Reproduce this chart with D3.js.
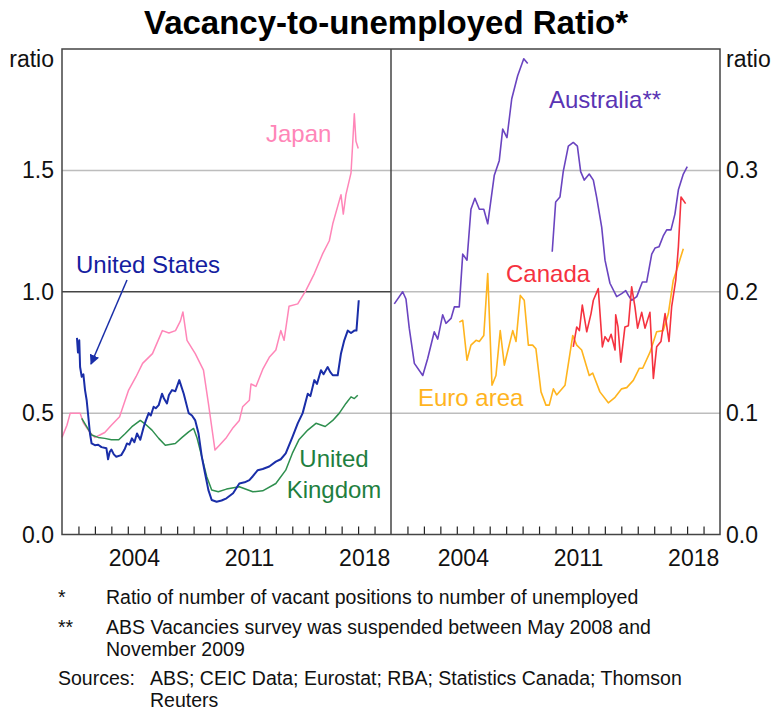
<!DOCTYPE html>
<html>
<head>
<meta charset="utf-8">
<script src="https://cdn.jsdelivr.net/npm/d3@7"></script>
<style>
  body { margin: 0; background: #fff; }
  text { font-family: "Liberation Sans", Arial, sans-serif; }
</style>
</head>
<body>
<svg id="chart" width="772" height="712"></svg>
<script>
// series are [year, ratio] pairs
const japan = [
  [2000.0,0.40],[2000.3,0.45],[2000.5,0.50],[2001.1,0.50],[2001.3,0.46],[2001.7,0.42],[2002.0,0.40],[2002.3,0.41],
  [2002.6,0.42],[2003.0,0.45],[2003.5,0.485],[2004.05,0.595],[2004.5,0.65],[2004.9,0.705],[2005.5,0.745],
  [2006.1,0.84],[2006.5,0.83],[2006.9,0.84],[2007.2,0.88],[2007.35,0.917],[2007.6,0.80],[2008.1,0.745],
  [2008.6,0.677],[2008.9,0.54],[2009.3,0.348],[2009.6,0.37],[2010.0,0.40],[2010.4,0.44],[2010.78,0.47],
  [2010.98,0.526],[2011.39,0.553],[2011.49,0.62],[2011.79,0.61],[2012.2,0.68],[2012.6,0.73],[2013.0,0.76],
  [2013.3,0.84],[2013.5,0.80],[2013.8,0.94],[2014.33,0.95],[2014.83,1.006],[2015.34,1.075],[2015.85,1.157],
  [2016.25,1.21],[2016.46,1.28],[2016.96,1.40],[2017.1,1.32],[2017.26,1.40],[2017.57,1.49],[2017.67,1.61],
  [2017.77,1.733],[2017.87,1.62],[2018.01,1.59]
];
const unitedStates = [
  [2000.91,0.81],[2000.97,0.75],[2001.05,0.80],[2001.1,0.69],[2001.2,0.65],[2001.3,0.66],[2001.4,0.595],
  [2001.5,0.553],[2001.6,0.485],[2001.7,0.416],[2001.8,0.375],[2002.0,0.368],[2002.2,0.37],[2002.4,0.36],
  [2002.7,0.355],[2002.8,0.31],[2002.9,0.34],[2003.0,0.35],[2003.15,0.33],[2003.3,0.32],[2003.6,0.327],
  [2003.8,0.35],[2003.95,0.375],[2004.1,0.37],[2004.25,0.396],[2004.4,0.38],[2004.56,0.416],[2004.76,0.39],
  [2004.97,0.444],[2005.1,0.47],[2005.27,0.50],[2005.4,0.49],[2005.57,0.526],[2005.7,0.52],[2005.88,0.533],
  [2006.08,0.58],[2006.2,0.56],[2006.38,0.54],[2006.5,0.575],[2006.69,0.595],[2006.89,0.59],[2007.13,0.636],
  [2007.4,0.58],[2007.7,0.50],[2007.9,0.49],[2008.1,0.47],[2008.3,0.416],[2008.5,0.32],[2008.7,0.25],
  [2008.9,0.183],[2009.1,0.142],[2009.4,0.135],[2009.7,0.14],[2010.0,0.149],[2010.4,0.17],[2010.78,0.21],
  [2011.1,0.215],[2011.39,0.224],[2011.6,0.24],[2011.9,0.265],[2012.2,0.27],[2012.6,0.28],[2013.0,0.30],
  [2013.3,0.31],[2013.6,0.334],[2014.0,0.40],[2014.33,0.458],[2014.63,0.50],[2014.94,0.58],[2015.1,0.57],
  [2015.34,0.636],[2015.5,0.62],[2015.74,0.677],[2015.9,0.66],[2016.15,0.69],[2016.3,0.67],[2016.46,0.656],
  [2016.76,0.656],[2016.96,0.746],[2017.16,0.80],[2017.37,0.84],[2017.57,0.83],[2017.77,0.84],[2017.9,0.84],
  [2018.04,0.965]
];
const unitedKingdom = [
  [2001.2,0.478],[2001.5,0.444],[2001.8,0.41],[2002.2,0.40],[2002.6,0.396],[2003.0,0.39],[2003.45,0.39],
  [2003.85,0.416],[2004.25,0.444],[2004.76,0.47],[2005.06,0.455],[2005.47,0.43],[2005.88,0.396],[2006.28,0.368],
  [2006.89,0.375],[2007.3,0.40],[2007.7,0.423],[2008.0,0.437],[2008.2,0.40],[2008.5,0.32],[2008.8,0.238],
  [2009.1,0.183],[2009.5,0.176],[2010.0,0.187],[2010.78,0.197],[2011.6,0.176],[2012.2,0.18],[2013.0,0.21],
  [2013.6,0.265],[2014.0,0.334],[2014.4,0.39],[2014.94,0.43],[2015.44,0.458],[2016.0,0.445],[2016.46,0.47],
  [2016.86,0.50],[2017.26,0.54],[2017.57,0.567],[2017.77,0.56],[2017.98,0.574]
];
// null marks the suspended survey (May 2008 - Nov 2009)
const australia = [
  [2000.2,0.190],[2000.71,0.20],[2000.91,0.194],[2001.11,0.17],[2001.42,0.141],[2001.93,0.131],[2002.23,0.145],
  [2002.63,0.167],[2002.84,0.161],[2003.14,0.181],[2003.34,0.174],[2003.65,0.178],[2003.85,0.1875],[2004.15,0.1875],
  [2004.36,0.231],[2004.62,0.226],[2004.86,0.268],[2005.1,0.277],[2005.37,0.268],[2005.64,0.268],[2005.88,0.256],
  [2006.28,0.296],[2006.58,0.308],[2006.79,0.334],[2007.05,0.327],[2007.34,0.359],[2007.7,0.378],[2008.07,0.392],
  [2008.31,0.388],[2009.0,null],
  [2009.8,0.233],[2010.01,0.274],[2010.27,0.278],[2010.47,0.299],[2010.78,0.32],[2011.08,0.323],[2011.33,0.32],
  [2011.53,0.299],[2011.75,0.292],[2012.05,0.297],[2012.3,0.292],[2012.5,0.278],[2012.81,0.253],[2013.01,0.226],
  [2013.31,0.207],[2013.72,0.196],[2014.02,0.1985],[2014.27,0.201],[2014.43,0.197],[2014.63,0.193],[2014.94,0.196],
  [2015.28,0.208],[2015.54,0.208],[2015.85,0.231],[2016.05,0.236],[2016.29,0.237],[2016.55,0.246],[2016.76,0.251],
  [2017.02,0.251],[2017.26,0.264],[2017.47,0.284],[2017.77,0.297],[2018.01,0.303]
];
const euroArea = [
  [2004.15,0.175],[2004.36,0.1765],[2004.62,0.1436],[2004.86,0.156],[2005.17,0.160],[2005.37,0.159],[2005.64,0.164],
  [2005.88,0.215],[2006.14,0.123],[2006.38,0.131],[2006.64,0.168],[2006.89,0.1395],[2007.13,0.153],[2007.4,0.168],
  [2007.6,0.159],[2007.86,0.197],[2008.1,0.193],[2008.35,0.156],[2008.61,0.156],[2008.81,0.153],[2009.12,0.1175],
  [2009.42,0.1066],[2009.62,0.1066],[2009.87,0.120],[2010.07,0.115],[2010.58,0.123],[2011.05,0.164],[2011.29,0.156],
  [2011.59,0.152],[2012.05,0.131],[2012.26,0.133],[2012.7,0.1175],[2013.21,0.1085],[2013.62,0.113],[2014.02,0.120],
  [2014.33,0.121],[2014.73,0.127],[2015.1,0.137],[2015.3,0.137],[2015.74,0.150],[2016.15,0.167],[2016.55,0.168],
  [2016.86,0.182],[2017.16,0.2095],[2017.37,0.218],[2017.77,0.2355]
];
const canada = [
  [2011.08,0.1546],[2011.29,0.171],[2011.45,0.168],[2011.63,0.189],[2011.9,0.167],[2012.16,0.182],[2012.3,0.193],
  [2012.6,0.2026],[2012.85,0.1546],[2013.01,0.163],[2013.21,0.159],[2013.38,0.165],[2013.62,0.152],[2013.66,0.181],
  [2013.8,0.171],[2013.97,0.142],[2014.22,0.171],[2014.43,0.172],[2014.63,0.204],[2014.83,0.1875],[2014.99,0.17],
  [2015.24,0.183],[2015.44,0.17],[2015.74,0.183],[2015.95,0.1286],[2016.15,0.1546],[2016.41,0.159],[2016.66,0.182],
  [2016.9,0.159],[2017.06,0.1875],[2017.31,0.2095],[2017.47,0.237],[2017.63,0.278],[2017.91,0.2726]
];

const leftTicks = [0, 0.5, 1.0, 1.5];
const rightTicks = [0, 0.1, 0.2, 0.3];
const yearLabels = [2004, 2011, 2018];
const yearTicks = d3.range(2001, 2020);

const svg = d3.select("#chart");
const plotTop = 49, plotBottom = 534.5, plotLeft = 62, plotMid = 391, plotRight = 720;

const xL = d3.scaleLinear().domain([2000, 2020]).range([plotLeft, plotMid]);
const xR = d3.scaleLinear().domain([2000, 2020]).range([plotMid, plotRight]);
const yL = d3.scaleLinear().domain([0, 2]).range([plotBottom, plotTop]);
const yR = d3.scaleLinear().domain([0, 0.4]).range([plotBottom, plotTop]);

// gridlines
svg.append("g").selectAll("line").data(leftTicks.slice(1)).join("line")
  .attr("x1", plotLeft).attr("x2", plotMid)
  .attr("y1", d => yL(d)).attr("y2", d => yL(d))
  .attr("stroke", d => d === 1 ? "#444" : "#bdbdbd").attr("stroke-width", 1.5);
svg.append("g").selectAll("line").data(rightTicks.slice(1)).join("line")
  .attr("x1", plotMid).attr("x2", plotRight)
  .attr("y1", d => yR(d)).attr("y2", d => yR(d))
  .attr("stroke", "#bdbdbd").attr("stroke-width", 1.5);

// data lines
const lineL = d3.line().x(d => xL(d[0])).y(d => yL(d[1]));
const lineR = d3.line().defined(d => d[1] !== null).x(d => xR(d[0])).y(d => yR(d[1]));

const drawLine = (data, gen, color, w) => svg.append("path").datum(data)
  .attr("d", gen).attr("fill", "none").attr("stroke", color)
  .attr("stroke-width", w).attr("stroke-linejoin", "round");

drawLine(japan, lineL, "#ff86b8", 1.5);
drawLine(unitedKingdom, lineL, "#2e8f4e", 1.5);
drawLine(unitedStates, lineL, "#1a2ea8", 2);
drawLine(australia, lineR, "#6a44c0", 1.6);
drawLine(euroArea, lineR, "#ffb41e", 1.6);
drawLine(canada, lineR, "#f5323f", 1.6);

// bottom ticks (pointing up)
const tickAxis = (x) => d3.axisBottom(x).tickValues(yearTicks).tickSize(-8).tickFormat("");
[xL, xR].forEach(x => {
  const g = svg.append("g").attr("transform", `translate(0,${plotBottom})`).call(tickAxis(x));
  g.select(".domain").remove();
  g.selectAll("line").attr("stroke", "#222").attr("stroke-width", 1.2);
});

// year labels
[xL, xR].forEach(x => {
  svg.append("g").selectAll("text").data(yearLabels).join("text")
    .attr("x", d => x(d + 0.4)).attr("y", 566)
    .attr("text-anchor", "middle").attr("font-size", 23).attr("fill", "#111")
    .text(d => d);
});

// y labels
svg.append("g").selectAll("text").data(leftTicks).join("text")
  .attr("x", 54).attr("y", d => yL(d) + 8).attr("text-anchor", "end")
  .attr("font-size", 23).attr("fill", "#111").text(d => d3.format(".1f")(d));
svg.append("g").selectAll("text").data(rightTicks).join("text")
  .attr("x", 726).attr("y", d => yR(d) + 8).attr("text-anchor", "start")
  .attr("font-size", 23).attr("fill", "#111").text(d => d3.format(".1f")(d));
svg.append("text").attr("x", 54).attr("y", 67).attr("text-anchor", "end")
  .attr("font-size", 23).attr("fill", "#111").text("ratio");
svg.append("text").attr("x", 726).attr("y", 67)
  .attr("font-size", 23).attr("fill", "#111").text("ratio");

// frame
svg.append("rect").attr("x", plotLeft).attr("y", plotTop)
  .attr("width", plotRight - plotLeft).attr("height", plotBottom - plotTop)
  .attr("fill", "none").attr("stroke", "#444").attr("stroke-width", 1.5);
svg.append("line").attr("x1", plotMid).attr("x2", plotMid).attr("y1", plotTop).attr("y2", plotBottom)
  .attr("stroke", "#444").attr("stroke-width", 1.5);

// title
svg.append("text").attr("x", 386).attr("y", 34).attr("text-anchor", "middle")
  .attr("font-size", 33).attr("font-weight", "bold").attr("fill", "#000")
  .text("Vacancy-to-unemployed Ratio*");

// series labels
const label = (x, y, txt, color, anchor) => svg.append("text")
  .attr("x", x).attr("y", y).attr("text-anchor", anchor || "start")
  .attr("font-size", 24).attr("fill", color).text(txt);
label(266, 142, "Japan", "#ff86b8");
label(76, 273, "United States", "#1420a0");
label(334, 467, "United", "#1f7f3f", "middle");
label(334, 498, "Kingdom", "#1f7f3f", "middle");
label(549, 108, "Australia**", "#5a34b4");
label(506, 282, "Canada", "#f5323f");
label(418, 406, "Euro area", "#ffb41e");

// arrow for United States
svg.append("defs").append("marker").attr("id", "arrow")
  .attr("viewBox", "0 0 10 10").attr("refX", 9).attr("refY", 5)
  .attr("markerWidth", 10).attr("markerHeight", 10).attr("markerUnits", "userSpaceOnUse")
  .attr("orient", "auto")
  .append("path").attr("d", "M0,0 L10,5 L0,10 Z").attr("fill", "#1a2ea8");
svg.append("line").attr("x1", 127).attr("y1", 280).attr("x2", 91).attr("y2", 364)
  .attr("stroke", "#1a2ea8").attr("stroke-width", 1.5).attr("marker-end", "url(#arrow)");

// footnotes
const notes = svg.append("g").attr("font-size", 19.5).attr("fill", "#111");
notes.append("text").attr("x", 58).attr("y", 604).text("*");
notes.append("text").attr("x", 106).attr("y", 604).text("Ratio of number of vacant positions to number of unemployed");
notes.append("text").attr("x", 58).attr("y", 634).text("**");
notes.append("text").attr("x", 106).attr("y", 634).text("ABS Vacancies survey was suspended between May 2008 and");
notes.append("text").attr("x", 106).attr("y", 656).text("November 2009");
notes.append("text").attr("x", 58).attr("y", 685).text("Sources:");
notes.append("text").attr("x", 150).attr("y", 685).text("ABS; CEIC Data; Eurostat; RBA; Statistics Canada; Thomson");
notes.append("text").attr("x", 150).attr("y", 707).text("Reuters");
</script>
</body>
</html>
